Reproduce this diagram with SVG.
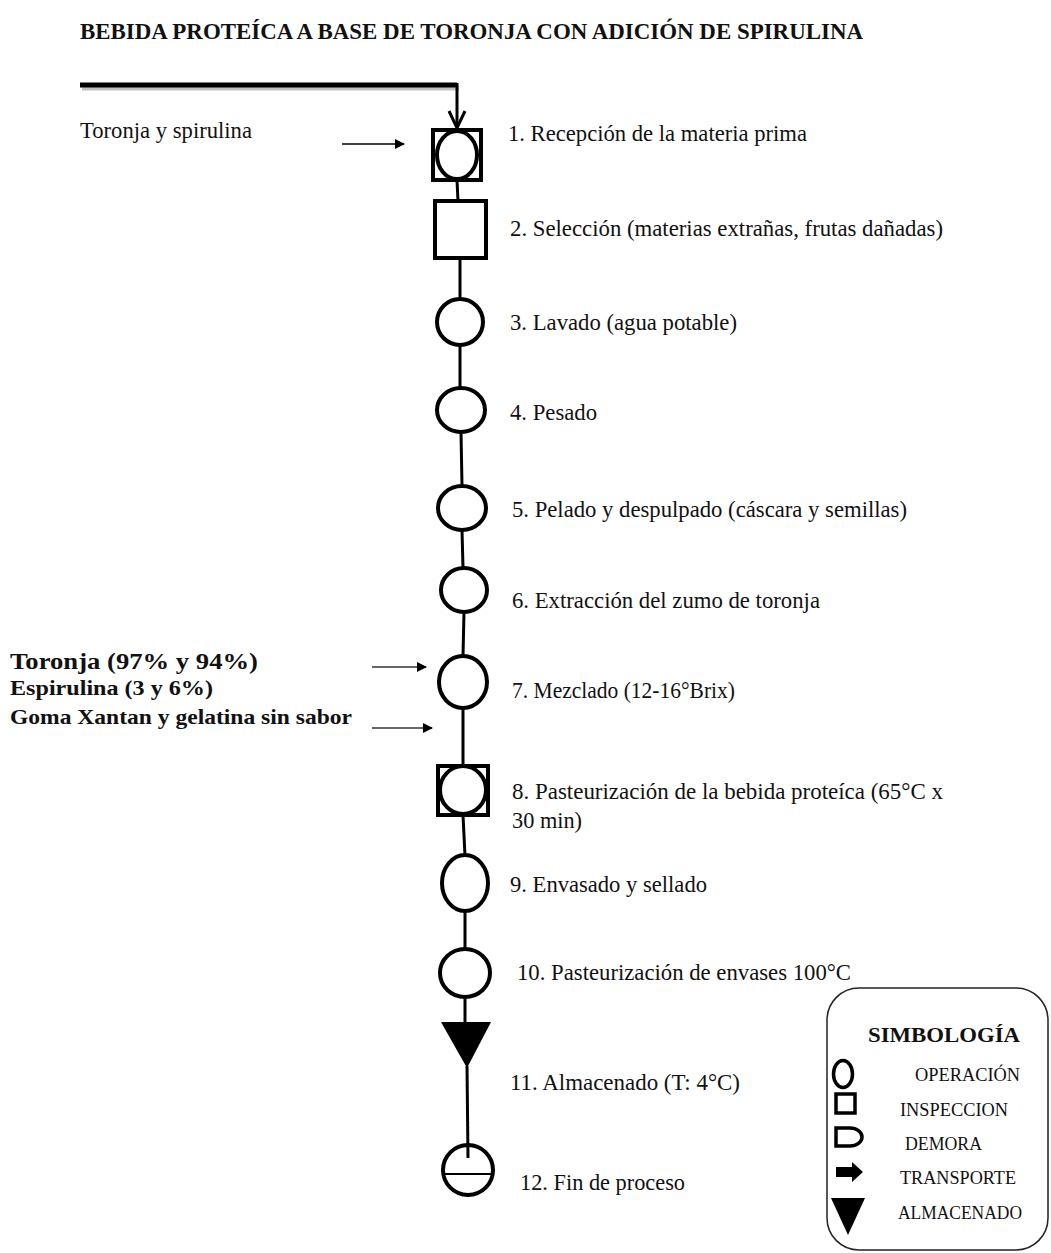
<svg xmlns="http://www.w3.org/2000/svg" width="1051" height="1253" viewBox="0 0 1051 1253">
<style>
text{font-family:"Liberation Serif","Times New Roman",serif;fill:#111}
.lb{font-size:24px}
.bl{font-weight:bold}
.sh{fill:none;stroke:#000;stroke-width:4}
.ln{stroke:#000;stroke-width:3;fill:none}
.lg{font-size:18px}
</style>
<defs>
<marker id="ah" viewBox="0 0 10 10" refX="9" refY="5" markerWidth="10" markerHeight="10" markerUnits="userSpaceOnUse" orient="auto"><path d="M0,0 L10,5 L0,10 z" fill="#000"/></marker>
</defs>
<rect width="1051" height="1253" fill="#fff"/>
<text x="80" y="39" class="bl" style="font-size:24px" textLength="783" lengthAdjust="spacingAndGlyphs">BEBIDA PROTEÍCA A BASE DE TORONJA CON ADICIÓN DE SPIRULINA</text>
<g id="connectors">
<line x1="82" y1="88" x2="459" y2="88" stroke="#999" stroke-width="5" opacity="0.6"/>
<line x1="80" y1="85" x2="457" y2="85" stroke="#000" stroke-width="5"/>
<line x1="457" y1="83" x2="457" y2="127" class="ln"/>
<polyline points="449,111 457,128 465,111" class="ln"/>
<line x1="342" y1="144" x2="404" y2="144" stroke="#000" stroke-width="1.5" marker-end="url(#ah)"/>
<line x1="372" y1="667" x2="426" y2="667" stroke="#333" stroke-width="1.5" marker-end="url(#ah)"/>
<line x1="372" y1="728" x2="432" y2="728" stroke="#333" stroke-width="1.5" marker-end="url(#ah)"/>
<line x1="457" y1="180" x2="458" y2="201" class="ln"/>
<line x1="460" y1="258" x2="460" y2="299" class="ln"/>
<line x1="460" y1="345" x2="460" y2="388" class="ln"/>
<line x1="461" y1="432" x2="462" y2="486" class="ln"/>
<line x1="462" y1="530" x2="463" y2="568" class="ln"/>
<line x1="464" y1="612" x2="463" y2="656" class="ln"/>
<line x1="463" y1="708" x2="463" y2="766" class="ln"/>
<line x1="463" y1="815" x2="465" y2="856" class="ln"/>
<line x1="465" y1="911" x2="465" y2="950" class="ln"/>
<line x1="465" y1="996" x2="465" y2="1022" class="ln"/>
<line x1="467" y1="1066" x2="468" y2="1158" class="ln"/>
</g>
<g id="n1">
<rect x="433" y="130" width="48" height="50" class="sh" stroke-width="4.5"/>
<ellipse cx="457" cy="155" rx="20" ry="24" class="sh"/>
<text x="80" y="138" class="lb" textLength="172" lengthAdjust="spacingAndGlyphs">Toronja y spirulina</text>
<text x="508" y="141" class="lb" textLength="299" lengthAdjust="spacingAndGlyphs">1. Recepción de la materia prima</text>
</g>
<g id="n2">
<rect x="435" y="201" width="51" height="57" class="sh"/>
<text x="510" y="236" class="lb" textLength="433" lengthAdjust="spacingAndGlyphs">2. Selección (materias extrañas, frutas dañadas)</text>
</g>
<g id="n3">
<ellipse cx="460" cy="322" rx="23" ry="23" class="sh"/>
<text x="510" y="330" class="lb" textLength="227" lengthAdjust="spacingAndGlyphs">3. Lavado (agua potable)</text>
</g>
<g id="n4">
<ellipse cx="461" cy="410" rx="24" ry="22" class="sh"/>
<text x="510" y="420" class="lb" textLength="87" lengthAdjust="spacingAndGlyphs">4. Pesado</text>
</g>
<g id="n5">
<ellipse cx="462" cy="508" rx="24" ry="22" class="sh"/>
<text x="512" y="517" class="lb" textLength="395" lengthAdjust="spacingAndGlyphs">5. Pelado y despulpado (cáscara y semillas)</text>
</g>
<g id="n6">
<ellipse cx="464" cy="590" rx="23" ry="22" class="sh"/>
<text x="512" y="608" class="lb" textLength="308" lengthAdjust="spacingAndGlyphs">6. Extracción del zumo de toronja</text>
</g>
<g id="n7">
<ellipse cx="463" cy="682" rx="24" ry="26" class="sh"/>
<text x="10" y="669" class="bl" style="font-size:23px" textLength="248" lengthAdjust="spacingAndGlyphs">Toronja (97% y 94%)</text>
<text x="10" y="695" class="bl" style="font-size:21px" textLength="203" lengthAdjust="spacingAndGlyphs">Espirulina (3 y 6%)</text>
<text x="10" y="724" class="bl" style="font-size:21px" textLength="342" lengthAdjust="spacingAndGlyphs">Goma Xantan y gelatina sin sabor</text>
<text x="512" y="698" class="lb" textLength="223" lengthAdjust="spacingAndGlyphs">7. Mezclado (12-16°Brix)</text>
</g>
<g id="n8">
<rect x="438" y="766" width="50" height="49" class="sh"/>
<ellipse cx="463" cy="790" rx="23" ry="24" class="sh"/>
<text x="512" y="799" class="lb" textLength="431" lengthAdjust="spacingAndGlyphs">8. Pasteurización de la bebida proteíca (65°C x</text>
<text x="512" y="828" class="lb" textLength="70" lengthAdjust="spacingAndGlyphs">30 min)</text>
</g>
<g id="n9">
<ellipse cx="465" cy="883" rx="23" ry="28" class="sh"/>
<text x="510" y="892" class="lb" textLength="197" lengthAdjust="spacingAndGlyphs">9. Envasado y sellado</text>
</g>
<g id="n10">
<ellipse cx="465" cy="973" rx="25" ry="24" class="sh"/>
<text x="517" y="980" class="lb" textLength="334" lengthAdjust="spacingAndGlyphs">10. Pasteurización de envases 100°C</text>
</g>
<g id="n11">
<polygon points="441,1022 491,1022 467,1068" fill="#000"/>
<text x="510" y="1090" class="lb" textLength="230" lengthAdjust="spacingAndGlyphs">11. Almacenado (T: 4°C)</text>
</g>
<g id="n12">
<circle cx="468" cy="1170" r="25" class="sh"/>
<line x1="445" y1="1174" x2="491" y2="1174" stroke="#000" stroke-width="2"/>
<text x="520" y="1190" class="lb" textLength="165" lengthAdjust="spacingAndGlyphs">12. Fin de proceso</text>
</g>
<g id="legend">
<rect x="827" y="988" width="221" height="262" rx="32" fill="none" stroke="#222" stroke-width="1.5"/>
<text x="868" y="1042" class="bl" style="font-size:22px" textLength="152" lengthAdjust="spacingAndGlyphs">SIMBOLOGÍA</text>
<ellipse cx="843" cy="1074" rx="9.5" ry="13.5" fill="none" stroke="#000" stroke-width="3.5"/>
<text x="915" y="1081" class="lg" textLength="105" lengthAdjust="spacingAndGlyphs">OPERACIÓN</text>
<rect x="836" y="1094" width="19" height="19" fill="none" stroke="#000" stroke-width="3.5"/>
<text x="900" y="1116" class="lg" textLength="108" lengthAdjust="spacingAndGlyphs">INSPECCION</text>
<path d="M836,1128 L850,1128 A12,9 0 0 1 850,1146 L836,1146 Z" fill="none" stroke="#000" stroke-width="3.5"/>
<text x="905" y="1150" class="lg" textLength="77" lengthAdjust="spacingAndGlyphs">DEMORA</text>
<path d="M836,1167 L852,1167 L852,1162 L863,1172 L852,1182 L852,1177 L836,1177 Z" fill="#000"/>
<text x="900" y="1184" class="lg" textLength="116" lengthAdjust="spacingAndGlyphs">TRANSPORTE</text>
<polygon points="831,1198 865,1198 848,1235" fill="#000"/>
<text x="898" y="1219" class="lg" textLength="124" lengthAdjust="spacingAndGlyphs">ALMACENADO</text>
</g>
</svg>
